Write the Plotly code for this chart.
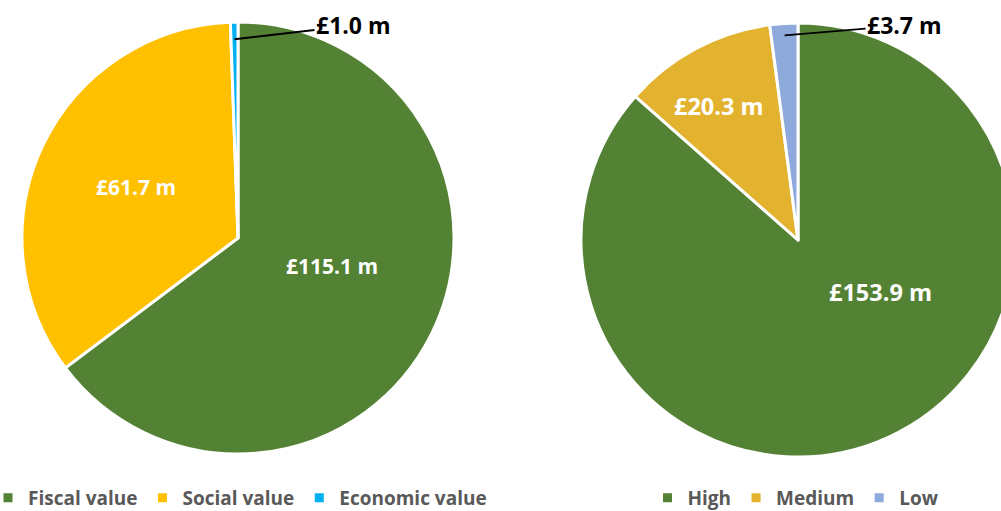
import math
import plotly.graph_objects as go

# ---- data ----
value_labels = ["Fiscal value", "Social value", "Economic value"]
value_amounts = [115.1, 61.7, 1.0]
risk_labels = ["High", "Medium", "Low"]
risk_amounts = [153.9, 20.3, 3.7]

# ---- style ----
W, H = 1040, 511
left_colors = ["#548235", "#FFC000", "#00B0F0"]
right_colors = ["#548235", "#E3B330", "#8EA9DB"]
left_dom = dict(x=[22 / W, 454 / W], y=[57 / H, 489 / H])
right_dom = dict(x=[581 / W, 1015 / W], y=[54 / H, 488 / H])
FONT = "Open Sans"
# label placement per slice: (radius fraction, angle shift in degrees) for inside labels
left_inside = {0: (0.456, -10.0), 1: (0.528, 1.0)}
right_inside = {0: (0.45, -33.7), 1: (0.716, -2.7)}
# callouts for the thin slices: (slice index, radius fraction, dx, dy)
left_callout = (2, 0.92, 119, -14)
right_callout = (2, 0.945, 120, -10)

fig = go.Figure()

def add_pie(labels, values, colors, dom, legend):
    fig.add_trace(go.Pie(
        labels=labels, values=values, sort=False, direction="clockwise",
        rotation=0, domain=dom, legend=legend, textinfo="none",
        marker=dict(colors=colors, line=dict(color="white", width=3)),
        hoverinfo="label+value",
    ))

add_pie(value_labels, value_amounts, left_colors, left_dom, "legend")
add_pie(risk_labels, risk_amounts, right_colors, right_dom, "legend2")

def slice_point(values, idx, dom, frac, shift=0.0):
    total = sum(values)
    start = sum(values[:idx]) / total * 2 * math.pi
    mid = start + values[idx] / total * math.pi + math.radians(shift)
    cx = (dom["x"][0] + dom["x"][1]) / 2 * W
    cy = (dom["y"][0] + dom["y"][1]) / 2 * H
    r = min((dom["x"][1] - dom["x"][0]) * W, (dom["y"][1] - dom["y"][0]) * H) / 2
    return (cx + frac * r * math.sin(mid)) / W, (cy + frac * r * math.cos(mid)) / H

def inside_labels(values, dom, placement, size):
    for idx, (frac, shift) in placement.items():
        x, y = slice_point(values, idx, dom, frac, shift)
        fig.add_annotation(
            x=x, y=y, xref="paper", yref="paper", showarrow=False,
            text="£%.1f m" % values[idx], xanchor="center", yanchor="middle",
            font=dict(family=FONT, size=size, color="white", weight=700),
        )

def callout(values, dom, spec):
    idx, frac, ax, ay = spec
    x, y = slice_point(values, idx, dom, frac)
    fig.add_annotation(
        x=x, y=y, xref="paper", yref="paper", ax=ax, ay=ay,
        text="£%.1f m" % values[idx], showarrow=True, arrowhead=0,
        arrowwidth=2, arrowcolor="black", standoff=0,
        font=dict(family=FONT, size=23, color="black", weight=700),
    )

inside_labels(value_amounts, left_dom, left_inside, 21)
inside_labels(risk_amounts, right_dom, right_inside, 23.5)
callout(value_amounts, left_dom, left_callout)
callout(risk_amounts, right_dom, right_callout)

legend_style = dict(
    orientation="h", yanchor="middle", xanchor="center",
    font=dict(family=FONT, size=19, color="#595959", weight=700),
    bgcolor="rgba(0,0,0,0)", itemclick=False, itemdoubleclick=False,
)
fig.update_layout(
    width=W, height=H, margin=dict(l=0, r=0, t=0, b=0, autoexpand=False),
    paper_bgcolor="white", plot_bgcolor="white",
    legend=dict(x=240 / W, y=13 / H, **legend_style),
    legend2=dict(x=796 / W, y=13 / H, **legend_style),
)

fig.write_html(
    "out.html",
    config={"displayModeBar": False},
    post_script="document.documentElement.style.overflow='hidden';"
                "document.body.style.overflow='hidden';document.body.style.margin='0';",
)
